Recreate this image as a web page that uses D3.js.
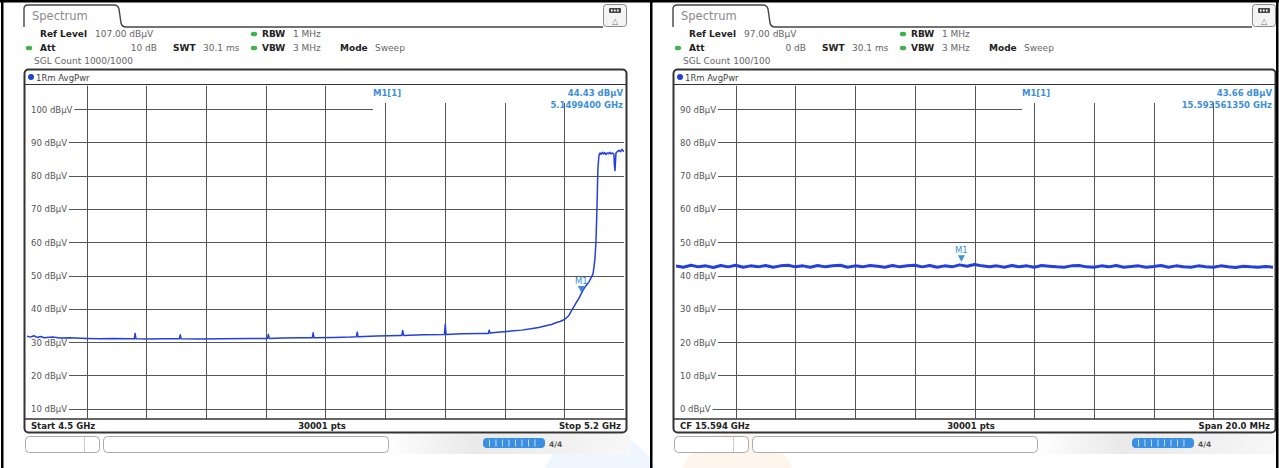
<!DOCTYPE html>
<html>
<head>
<meta charset="utf-8">
<script src="https://cdn.jsdelivr.net/npm/d3@7"></script>
<style>
  body { margin: 0; background: #fff; }
  svg { display: block; }
  text { font-family: "DejaVu Sans", sans-serif; }
</style>
</head>
<body>
<script>
// ---- data ----
const leftTicks = [100, 90, 80, 70, 60, 50, 40, 30, 20, 10];
const rightTicks = [90, 80, 70, 60, 50, 40, 30, 20, 10, 0];

// [frequency GHz, level dBuV]
const leftTrace = [
  [4.5000,31.8],[4.5040,31.5],[4.5080,31.9],[4.5120,31.4],[4.5160,31.7],[4.5200,31.3],
  [4.5300,31.5],[4.5388,31.2],[4.5500,31.3],[4.5700,31.1],[4.5857,31.0],[4.6000,31.1],
  [4.6200,31.0],[4.6258,31.0],[4.6268,32.6],[4.6278,31.0],[4.6445,30.9],[4.6600,31.0],
  [4.6787,31.0],[4.6797,32.2],[4.6807,31.0],[4.7032,30.9],[4.7300,31.0],[4.7619,31.1],
  [4.7820,31.1],[4.7830,32.3],[4.7840,31.1],[4.8000,31.2],[4.8206,31.3],
  [4.8345,31.3],[4.8355,32.8],[4.8365,31.3],[4.8600,31.4],[4.8794,31.5],
  [4.8862,31.6],[4.8872,33.0],[4.8882,31.6],[4.9100,31.8],[4.9381,32.0],
  [4.9395,32.0],[4.9405,33.5],[4.9415,32.0],[4.9650,32.2],[4.9894,32.3],[4.9904,35.3],[4.9914,32.3],
  [5.0100,32.5],[5.0320,32.6],[5.0410,32.6],[5.0420,33.6],[5.0430,32.7],
  [5.0550,33.0],[5.0673,33.3],[5.0800,33.6],[5.0908,34.0],[5.1000,34.4],[5.1084,34.9],
  [5.1150,35.3],[5.1201,35.8],[5.1250,36.2],[5.1295,36.7],[5.1325,37.3],[5.1354,38.0],
  [5.1380,39.2],[5.1401,40.2],[5.1425,41.2],[5.1448,42.2],[5.1475,43.3],[5.1495,44.4],
  [5.1520,45.6],[5.1542,46.5],[5.1565,47.3],[5.1589,48.1],[5.1612,49.2],[5.1636,50.4],
  [5.1648,52.5],[5.1659,55.0],[5.1671,60.0],[5.1683,70.0],[5.1690,78.0],[5.1695,82.5],
  [5.1706,86.0],[5.1718,86.8],[5.1730,86.4],[5.1745,87.0],[5.1760,86.5],[5.1775,86.9],
  [5.1789,86.3],[5.1805,86.8],[5.1820,86.6],[5.1835,87.0],[5.1847,86.5],[5.1865,86.8],
  [5.1882,86.4],[5.1888,83.0],[5.1894,81.5],[5.1900,84.0],[5.1906,86.8],[5.1925,87.3],
  [5.1941,87.6],[5.1960,87.2],[5.1975,87.9],[5.1988,87.5],[5.2000,87.2]
];

// right trace: levels at 0.25 MHz steps across 15.584 .. 15.604 GHz
const rightLevels = [
  42.9,42.5,43.1,42.6,42.9,42.4,43.0,42.6,43.1,42.5,42.9,42.6,43.0,42.5,42.9,43.1,42.6,
  42.9,42.5,43.0,42.6,42.9,43.1,42.5,42.9,42.6,43.0,42.8,42.5,43.0,42.6,42.9,43.1,42.6,
  43.0,42.5,42.9,42.6,43.2,42.8,43.3,42.9,42.6,42.9,42.5,43.0,42.6,42.9,42.5,43.0,42.8,
  42.6,42.5,42.9,43.0,42.6,42.5,42.9,42.6,43.0,42.5,42.7,42.9,42.5,42.7,43.0,42.5,42.9,
  42.6,42.5,42.9,42.6,42.5,42.9,42.6,42.4,42.8,42.6,42.5,42.7,42.5
];
const rightTrace = rightLevels.map((v, i) => [15.584 + i * 0.00025, v]);

const leftMarker = { f: 5.14994, v: 44.43, text: ["44.43 dB\u00B5V", "5.1499400 GHz"] };
const rightMarker = { f: 15.59356135, v: 43.66, text: ["43.66 dB\u00B5V", "15.593561350 GHz"] };

const panels = [
  { dx: 0, ref: 107, refText: "107.00 dB\u00B5V", att: "10 dB", count: "SGL Count 1000/1000",
    fStart: 4.5, fStop: 5.2, ticks: leftTicks, trace: leftTrace, marker: leftMarker,
    footer: ["Start 4.5 GHz", "30001 pts", "Stop 5.2 GHz"], glow: "#dcebfa", glowX: 600 },
  { dx: 649, ref: 97, refText: "97.00 dB\u00B5V", att: "0 dB", count: "SGL Count 100/100",
    fStart: 15.584, fStop: 15.604, ticks: rightTicks, trace: rightTrace, marker: rightMarker,
    footer: ["CF 15.594 GHz", "30001 pts", "Span 20.0 MHz"], glow: "#fdebd4", glowX: 88 }
];

const W = 1279, H = 468;
const svg = d3.select("body").append("svg").attr("width", W).attr("height", H);

const defs = svg.append("defs");
const grad = defs.append("linearGradient").attr("id", "stat");
grad.append("stop").attr("offset", "0").attr("stop-color", "#fff");
grad.append("stop").attr("offset", "0.35").attr("stop-color", "#e9e9e9");
grad.append("stop").attr("offset", "1").attr("stop-color", "#f7f7f7");

const blue = "#2340dc", mblue = "#3d8fd9", gridc = "#555";
const x0 = 27, x1 = 624, yTop = 85.7, yBot = 418.7, boxX = 373;

panels.forEach((p, pi) => {
  const g = svg.append("g").attr("transform", `translate(${p.dx},0)`);

  // faint watermark glow at the bottom
  g.append("circle").attr("cx", p.glowX).attr("cy", 492).attr("r", 60)
    .attr("fill", p.glow).attr("opacity", 0.45);

  // tab + header line
  g.append("path")
    .attr("d", "M24,27 V9 Q24,5 28,5 H114 Q118,5 119,9 L121,23 Q122,27 126,27 H603")
    .attr("fill", "none").attr("stroke", "#444").attr("stroke-width", 1.4);
  g.append("text").attr("x", 32).attr("y", 20).attr("font-size", 11.5)
    .attr("fill", "#8a8a8a").text("Spectrum");

  // top right icon
  g.append("rect").attr("x", 603.5).attr("y", 4.5).attr("width", 23).attr("height", 22).attr("rx", 3)
    .attr("fill", "#f4f4f4").attr("stroke", "#888");
  g.append("rect").attr("x", 609).attr("y", 8).attr("width", 12).attr("height", 5).attr("rx", 1)
    .attr("fill", "#444");
  [611, 614, 617].forEach(cx => g.append("rect").attr("x", cx).attr("y", 9.5).attr("width", 1.6)
    .attr("height", 2).attr("fill", "#fff"));
  g.append("text").attr("x", 615).attr("y", 24).attr("text-anchor", "middle")
    .attr("font-size", 8).attr("fill", "#777").text("\u25B3");

  // settings header
  const hdr = (x, y, t, bold, anchor) => g.append("text").attr("x", x).attr("y", y)
    .attr("font-size", 9).attr("font-weight", bold ? "bold" : "normal")
    .attr("fill", bold ? "#222" : "#666").attr("text-anchor", anchor || "start").text(t);
  const dot = (x, y) => g.append("ellipse").attr("cx", x).attr("cy", y).attr("rx", 3.2).attr("ry", 2.3)
    .attr("fill", "#3cb44b");
  hdr(40, 37, "Ref Level", true); hdr(95, 37, p.refText, false);
  dot(254, 34); hdr(262, 37, "RBW", true); hdr(293, 37, "1 MHz", false);
  dot(29, 48); hdr(40, 51, "Att", true); hdr(157, 51, p.att, false, "end");
  hdr(173, 51, "SWT", true); hdr(203, 51, "30.1 ms", false);
  dot(254, 48); hdr(262, 51, "VBW", true); hdr(293, 51, "3 MHz", false);
  hdr(340, 51, "Mode", true); hdr(375, 51, "Sweep", false);
  hdr(34, 64, p.count, false);

  // diagram frame
  g.append("rect").attr("x", 24.5).attr("y", 69.5).attr("width", 602).attr("height", 363).attr("rx", 4)
    .attr("fill", "#fff").attr("stroke", "#333").attr("stroke-width", 2);
  g.append("circle").attr("cx", 31).attr("cy", 77).attr("r", 3).attr("fill", "#1f3fd6");
  g.append("text").attr("x", 36).attr("y", 80.5).attr("font-size", 8.5).attr("fill", "#444").text("1Rm AvgPwr");
  g.append("line").attr("x1", 25).attr("x2", 626).attr("y1", 84.5).attr("y2", 84.5).attr("stroke", "#333");

  const x = d3.scaleLinear().domain([p.fStart, p.fStop]).range([x0, x1]);
  const y = d3.scaleLinear().domain([p.ref - 100, p.ref]).range([yBot, yTop]);

  // grid
  const xDiv = d3.range(1, 10).map(i => p.fStart + i * (p.fStop - p.fStart) / 10);
  g.append("g").selectAll("line").data(xDiv).join("line")
    .attr("x1", d => Math.round(x(d)) + 0.5).attr("x2", d => Math.round(x(d)) + 0.5)
    .attr("y1", d => x(d) > boxX ? 103 : yTop).attr("y2", yBot)
    .attr("stroke", gridc).attr("stroke-width", 1);
  g.append("g").selectAll("line").data(p.ticks).join("line")
    .attr("x1", x0).attr("x2", (d, i) => i === 0 ? boxX : x1)
    .attr("y1", d => Math.round(y(d)) + 0.5).attr("y2", d => Math.round(y(d)) + 0.5)
    .attr("stroke", gridc).attr("stroke-width", 1);
  g.append("line").attr("x1", 25).attr("x2", 626).attr("y1", 419).attr("y2", 419)
    .attr("stroke", "#333").attr("stroke-width", 1.5);

  // level labels with white backing
  const lab = g.append("g").selectAll("g").data(p.ticks).join("g");
  lab.append("rect").attr("x", 26).attr("y", d => y(d) - 5).attr("height", 10).attr("fill", "#fff");
  lab.append("text").attr("x", 31).attr("y", d => y(d) + 3.5).attr("font-size", 8.5)
    .attr("fill", "#555").text(d => d + " dB\u00B5V")
    .each(function () { d3.select(this.previousSibling).attr("width", this.getComputedTextLength() + 7); });

  // trace
  const clipId = "clip" + pi;
  defs.append("clipPath").attr("id", clipId).append("rect")
    .attr("x", x0).attr("y", yTop).attr("width", x1 - x0).attr("height", yBot - yTop);
  g.append("path").datum(p.trace)
    .attr("clip-path", `url(#${clipId})`)
    .attr("d", d3.line().x(d => x(d[0])).y(d => y(d[1])))
    .attr("fill", "none").attr("stroke", blue)
    .attr("stroke-width", pi === 0 ? 1.5 : 3).attr("stroke-linejoin", "round");

  // marker
  const mx = x(p.marker.f), my = y(p.marker.v);
  g.append("path").attr("d", `M${mx - 3.5},${my - 8} H${mx + 3.5} L${mx},${my - 1.5} Z`).attr("fill", mblue);
  g.append("text").attr("x", mx).attr("y", my - 10).attr("text-anchor", "middle")
    .attr("font-size", 8.5).attr("fill", mblue).text("M1");

  // marker info
  g.append("text").attr("x", boxX).attr("y", 96).attr("font-size", 8.5).attr("font-weight", "bold")
    .attr("fill", mblue).text("M1[1]");
  p.marker.text.forEach((t, i) => g.append("text").attr("x", x1 - 1).attr("y", 96 + i * 12)
    .attr("text-anchor", "end").attr("font-size", 8.5).attr("font-weight", "bold")
    .attr("fill", mblue).text(t));

  // footer
  const ft = [[31, "start"], [322, "middle"], [621, "end"]];
  p.footer.forEach((t, i) => g.append("text").attr("x", ft[i][0]).attr("y", 428.5)
    .attr("text-anchor", ft[i][1]).attr("font-size", 8.5).attr("font-weight", "bold")
    .attr("fill", "#222").text(t));

  // status bar
  g.append("rect").attr("x", 388).attr("y", 434).attr("width", 242).attr("height", 20).attr("fill", "url(#stat)");
  g.append("rect").attr("x", 25.5).attr("y", 436.5).attr("width", 74).attr("height", 16).attr("rx", 4)
    .attr("fill", "#fff").attr("stroke", "#aaa");
  g.append("line").attr("x1", 84.5).attr("x2", 84.5).attr("y1", 437).attr("y2", 452).attr("stroke", "#ccc");
  g.append("rect").attr("x", 103.5).attr("y", 436.5).attr("width", 285).attr("height", 16).attr("rx", 4)
    .attr("fill", "#fff").attr("stroke", "#aaa");
  g.append("rect").attr("x", 483).attr("y", 438).attr("width", 62).attr("height", 10).attr("rx", 4)
    .attr("fill", "#3b8fe3");
  d3.range(8).forEach(i => g.append("rect").attr("x", 489 + i * 6.5).attr("y", 439.5)
    .attr("width", 0.9).attr("height", 7).attr("fill", "#cfe5fb"));
  g.append("text").attr("x", 549).attr("y", 447).attr("font-size", 7.5).attr("font-weight", "bold")
    .attr("fill", "#555").text("4/4");
});

// black border of the screenshot
svg.append("rect").attr("x", 0).attr("y", 0).attr("width", W).attr("height", 2.5).attr("fill", "#000");
svg.append("rect").attr("x", 1).attr("y", 0).attr("width", 2.5).attr("height", H).attr("fill", "#000");
svg.append("rect").attr("x", 650).attr("y", 0).attr("width", 2.5).attr("height", H).attr("fill", "#000");
svg.append("rect").attr("x", 1276).attr("y", 0).attr("width", 2.5).attr("height", H).attr("fill", "#000");
</script>
</body>
</html>
